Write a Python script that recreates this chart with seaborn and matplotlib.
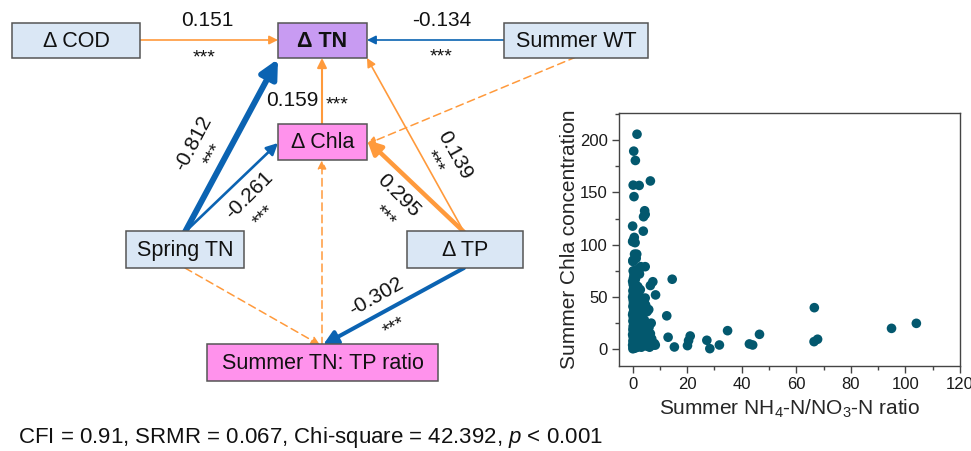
import seaborn as sns
import matplotlib.pyplot as plt
from matplotlib.patches import Rectangle, FancyArrowPatch
from matplotlib.ticker import MultipleLocator
import pandas as pd

sns.set_theme(style="ticks")
plt.rcParams['font.family'] = ['Liberation Sans', 'DejaVu Sans']
plt.rcParams['mathtext.fontset'] = 'custom'
plt.rcParams['mathtext.rm'] = 'Liberation Sans'
plt.rcParams['mathtext.it'] = 'Liberation Sans:italic'

# ------------------------------------------------------------
# data
# ------------------------------------------------------------
node_names = ["Δ COD", "Δ TN", "Summer WT", "Δ Chla", "Spring TN", "Δ TP",
              "Summer TN: TP ratio"]

# path coefficients (significant paths)
coef_cod_tn = 0.151
coef_wt_tn = -0.134
coef_stn_tn = -0.812
coef_stn_chla = -0.261
coef_chla_tn = 0.159
coef_tp_chla = 0.295
coef_tp_tn = 0.139
coef_tp_ratio = -0.302

fit_stats = "CFI = 0.91, SRMR = 0.067, Chi-square = 42.392, $\\it{p}$ < 0.001"

# scatter: summer NH4-N/NO3-N ratio vs summer Chla
ratio = [1.6, 0.4, 1.0, 0.2, 2.4, 6.5, 0.5, 4.4, 4.6, 4.0, 0.0, 3.9, 0.6, 0.2,
         0.0, 0.9, 0.7, 1.3, 0.1, 4.6, 2.4, 14.5, 7.4, 6.5, 8.4, 12.5, 13.0,
         15.3, 20.1, 20.5, 21.1, 27.2, 28.3, 31.8, 34.8, 42.8, 44.0, 46.5,
         66.6, 66.5, 67.8, 94.9, 104.0,
         0.1, 0.2, 0.0, 0.3, 0.1, 0.4, 0.2, 0.0, 0.3, 0.1, 0.2, 0.4, 0.1, 0.3,
         0.0, 0.2, 0.4, 0.1, 0.3, 0.2, 0.0, 0.3, 0.1, 0.4, 0.2, 0.0, 0.3, 0.5,
         0.2, 0.1,
         0.8, 1.0, 0.7, 1.2, 0.9, 1.1, 0.6, 1.3, 0.8, 1.0, 1.4, 0.7, 1.1, 0.9,
         1.3, 0.6, 1.0, 1.2, 0.8, 1.4, 0.7, 1.1, 0.9, 1.3, 0.6, 1.0, 1.2, 0.8,
         1.0, 1.5, 1.4,
         1.8, 2.2, 1.7, 2.5, 2.0, 2.8, 1.9, 2.4, 2.1, 2.7, 1.6, 2.3, 2.9, 2.0,
         2.6, 1.8, 2.4, 2.2, 2.8, 1.9, 2.5, 2.1, 3.0, 2.6,
         3.2, 3.8, 3.5, 4.2, 3.3, 4.0, 4.6, 3.6, 4.3, 3.4, 4.1, 3.7, 4.4, 3.2,
         4.8, 4.6, 3.9, 4.5,
         5.2, 5.8, 6.3, 5.5, 6.5, 5.6, 6.0, 6.8, 5.3, 5.9, 7.2, 7.7, 8.3, 8.0,
         6.2, 7.0]
chla = [205.7, 189.5, 180.6, 157.0, 156.7, 161.0, 146.0, 132.5, 129.0, 126.8,
        117.8, 113.0, 107.0, 104.0, 103.0, 102.0, 91.0, 87.0, 84.0, 79.0, 76.0,
        67.0, 64.6, 61.0, 52.0, 32.0, 11.5, 2.2, 3.5, 8.3, 12.7, 8.6, 0.6,
        4.1, 17.8, 5.1, 4.1, 14.3, 39.8, 7.3, 9.6, 20.0, 24.8,
        0.5, 2.0, 4.0, 6.0, 8.0, 10.0, 12.0, 14.0, 17.0, 19.0, 22.0, 25.0,
        27.0, 30.0, 33.0, 35.0, 38.0, 41.0, 44.0, 47.0, 50.0, 53.0, 56.0,
        59.0, 62.0, 65.0, 68.0, 71.0, 75.0, 85.0,
        1.0, 3.0, 5.0, 7.0, 9.0, 11.0, 13.0, 15.0, 18.0, 21.0, 23.0, 26.0,
        29.0, 32.0, 34.0, 37.0, 40.0, 43.0, 46.0, 49.0, 52.0, 55.0, 58.0,
        61.0, 64.0, 67.0, 70.0, 73.0, 88.0, 91.0, 76.0,
        2.0, 5.0, 8.0, 10.0, 13.0, 16.0, 19.0, 22.0, 26.0, 29.0, 32.0, 35.0,
        38.0, 41.0, 44.0, 48.0, 51.0, 54.0, 57.0, 60.0, 72.0, 74.0, 79.0,
        78.0,
        2.0, 5.0, 8.0, 11.0, 14.0, 17.0, 20.0, 24.0, 28.0, 33.0, 37.0, 41.0,
        44.0, 47.0, 42.0, 49.0, 4.0, 7.0,
        3.0, 6.0, 9.0, 12.0, 15.0, 18.0, 21.0, 25.0, 36.0, 38.0, 6.0, 4.0,
        4.0, 5.5, 2.0, 10.0]

# ------------------------------------------------------------
# figure
# ------------------------------------------------------------
W, H = 971, 451
fig = plt.figure(figsize=(W / 100, H / 100), dpi=100)
fig.patch.set_facecolor("white")

ax = fig.add_axes([0, 0, 1, 1])
ax.set_xlim(0, W)
ax.set_ylim(H, 0)
ax.axis("off")

BLUE_BOX = "#DAE7F5"
PURPLE = "#C89BF2"
PINK = "#FF92EC"
ORANGE = "#FF9A3C"
BLUE = "#0B63B2"

# box layout: x0, y0, x1, y1 (pixels), face colour, bold
box_layout = [
    (12, 23, 140, 58, BLUE_BOX, False),
    (278, 23, 367, 58, PURPLE, True),
    (504, 23, 648, 58, BLUE_BOX, False),
    (278, 124, 367, 160, PINK, False),
    (126, 231, 244, 268, BLUE_BOX, False),
    (407, 231, 523, 268, BLUE_BOX, False),
    (207, 344, 438, 381, PINK, False),
]
for name, (x0, y0, x1, y1, fc, bold) in zip(node_names, box_layout):
    ax.add_patch(Rectangle((x0, y0), x1 - x0, y1 - y0, facecolor=fc,
                           edgecolor="#555555", lw=1.1, zorder=3))
    ax.text((x0 + x1) / 2, (y0 + y1) / 2 + 1, name, ha="center", va="center",
            fontsize=15.5, fontweight="bold" if bold else "normal",
            color="#111111", zorder=4)

# arrows: start, end, colour, line width, dashed, head size
arrows = [
    ((140, 40), (278, 40), ORANGE, 1.2, False, 13),
    ((504, 40), (367, 40), BLUE, 1.2, False, 13),
    ((185, 232), (278, 59), BLUE, 4.3, False, 27),
    ((185, 232), (278, 143), BLUE, 1.9, False, 17),
    ((322, 124), (322, 58), ORANGE, 1.5, False, 14),
    ((464, 232), (367, 140), ORANGE, 3.2, False, 21),
    ((464, 232), (367, 58), ORANGE, 1.2, False, 13),
    ((464, 268), (323, 345), BLUE, 2.9, False, 21),
    ((576, 57), (367, 144), ORANGE, 1.1, True, 13),
    ((185, 268), (320, 345), ORANGE, 1.1, True, 13),
    ((322, 345), (322, 160), ORANGE, 1.1, True, 13),
]
for start, end, col, lw, dashed, ms in arrows:
    ax.add_patch(FancyArrowPatch(start, end, arrowstyle="-|>", color=col,
                                 lw=lw, linestyle=(0, (5, 3)) if dashed else "-",
                                 mutation_scale=ms, shrinkA=0, shrinkB=0,
                                 zorder=2))

# coefficient labels: value, x, y, rotation ; stars x, y
coef_labels = [
    (coef_cod_tn, 207, 21, 0, 204, 58),
    (coef_wt_tn, 442, 21, 0, 441, 57),
    (coef_stn_tn, 193, 143, 62, 214, 155),
    (coef_stn_chla, 249, 195, 45, 264, 216),
    (coef_tp_chla, 398, 196, -45, 384, 216),
    (coef_tp_tn, 455, 155, -61, 433, 162),
    (coef_tp_ratio, 376, 297, 29.5, 395, 327),
]
for val, x, y, rot, sx, sy in coef_labels:
    ax.text(x, y, f"{val:.3f}", ha="center", va="center", rotation=rot,
            rotation_mode="anchor", fontsize=15, color="#111111")
    ax.text(sx, sy, "***", ha="center", va="center", rotation=rot,
            rotation_mode="anchor", fontsize=14, color="#111111")

ax.text(292, 100, f"{coef_chla_tn:.3f}", ha="center", va="center",
        fontsize=15, color="#111111")
ax.text(337, 105, "***", ha="center", va="center", fontsize=14,
        color="#111111")

ax.text(18, 438, fit_stats, ha="left", va="center", fontsize=16,
        color="#111111")

# ------------------------------------------------------------
# scatter panel
# ------------------------------------------------------------
sax = fig.add_axes([619 / W, 1 - 366 / H, (960 - 619) / W, (366 - 113) / H])
df = pd.DataFrame({"ratio": ratio, "chla": chla})
sns.scatterplot(data=df, x="ratio", y="chla", ax=sax, color="#03586E",
                s=48, edgecolor="none", linewidth=0)
sax.set_xlim(-5, 120)
sax.set_ylim(-16, 226)
sax.xaxis.set_major_locator(MultipleLocator(20))
sax.xaxis.set_minor_locator(MultipleLocator(10))
sax.yaxis.set_major_locator(MultipleLocator(50))
sax.yaxis.set_minor_locator(MultipleLocator(25))
sax.set_xlabel(r"Summer NH$_4$-N/NO$_3$-N ratio", fontsize=15, labelpad=4)
sax.set_ylabel("Summer Chla concentration", fontsize=15, labelpad=1)
for sp in sax.spines.values():
    sp.set_visible(True)
    sp.set_color("#444444")
    sp.set_linewidth(1.0)
sax.tick_params(which="major", length=5, width=1, color="#444444",
                labelsize=12, labelcolor="#1a1a1a", direction="out", pad=3)
sax.tick_params(which="minor", length=3, width=1, color="#444444",
                direction="out")
sax.tick_params(top=False, right=False, which="both")

fig.savefig("out.png", dpi=100)
